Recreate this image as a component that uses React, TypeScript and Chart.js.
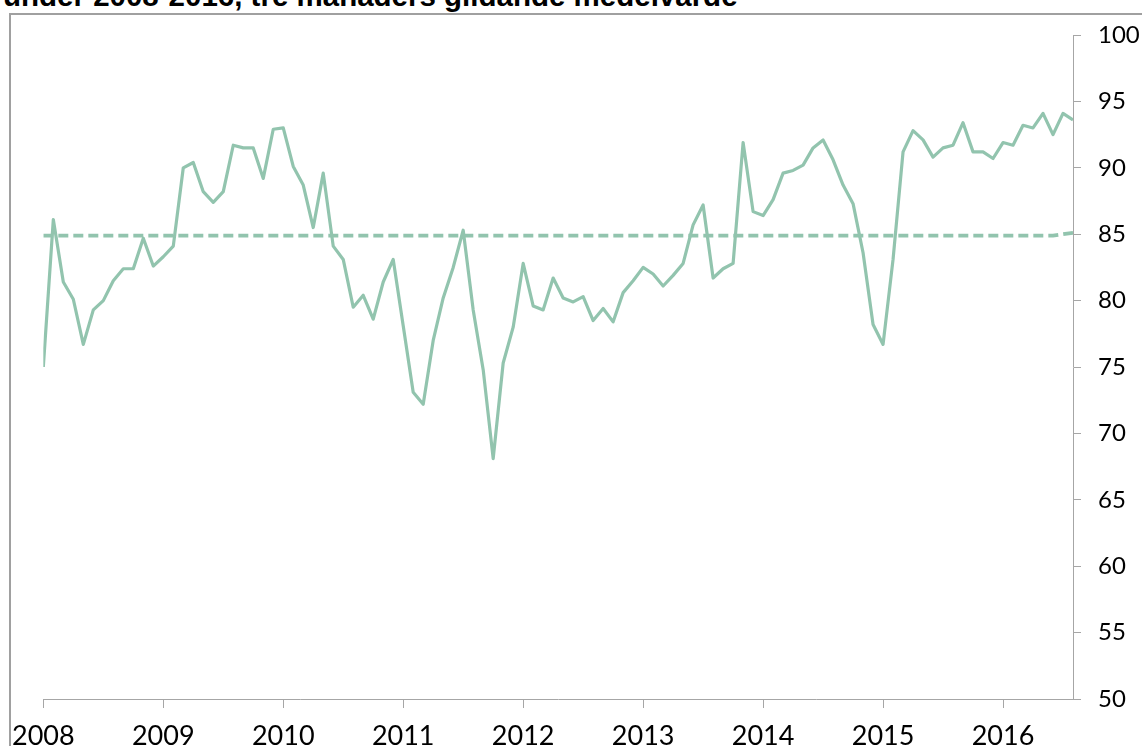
import React, { useEffect, useRef } from "react";
import { Chart, registerables } from "chart.js";

Chart.register(...registerables);

const TITLE = "under 2008-2016, tre månaders glidande medelvärde";

const YEARS = ["2008", "2009", "2010", "2011", "2012", "2013", "2014", "2015", "2016"];

const Y_TICKS = [50, 55, 60, 65, 70, 75, 80, 85, 90, 95, 100];

// Monthly index, Jan 2008 - Aug 2016 (three-month moving average)
const INDEX_VALUES = [
  75.0, 86.1, 81.4, 80.1, 76.7, 79.3, 80.0, 81.5, 82.4, 82.4, 84.7, 82.6,
  83.3, 84.1, 90.0, 90.4, 88.2, 87.4, 88.2, 91.7, 91.5, 91.5, 89.2, 92.9,
  93.0, 90.1, 88.7, 85.5, 89.6, 84.1, 83.1, 79.5, 80.4, 78.6, 81.4, 83.1,
  78.1, 73.1, 72.2, 77.0, 80.2, 82.5, 85.3, 79.3, 74.8, 68.1, 75.3, 78.0,
  82.8, 79.6, 79.3, 81.7, 80.2, 79.9, 80.3, 78.5, 79.4, 78.4, 80.6, 81.5,
  82.5, 82.0, 81.1, 81.9, 82.8, 85.7, 87.2, 81.7, 82.4, 82.8, 91.9, 86.7,
  86.4, 87.6, 89.6, 89.8, 90.2, 91.5, 92.1, 90.6, 88.7, 87.3, 83.6, 78.2,
  76.7, 83.1, 91.2, 92.8, 92.1, 90.8, 91.5, 91.7, 93.4, 91.2, 91.2, 90.7,
  91.9, 91.7, 93.2, 93.0, 94.1, 92.5, 94.1, 93.6,
];

// Long-term average (dashed)
const AVERAGE_VALUES = [
  84.9, 84.9, 84.9, 84.9, 84.9, 84.9, 84.9, 84.9, 84.9, 84.9, 84.9, 84.9,
  84.9, 84.9, 84.9, 84.9, 84.9, 84.9, 84.9, 84.9, 84.9, 84.9, 84.9, 84.9,
  84.9, 84.9, 84.9, 84.9, 84.9, 84.9, 84.9, 84.9, 84.9, 84.9, 84.9, 84.9,
  84.9, 84.9, 84.9, 84.9, 84.9, 84.9, 84.9, 84.9, 84.9, 84.9, 84.9, 84.9,
  84.9, 84.9, 84.9, 84.9, 84.9, 84.9, 84.9, 84.9, 84.9, 84.9, 84.9, 84.9,
  84.9, 84.9, 84.9, 84.9, 84.9, 84.9, 84.9, 84.9, 84.9, 84.9, 84.9, 84.9,
  84.9, 84.9, 84.9, 84.9, 84.9, 84.9, 84.9, 84.9, 84.9, 84.9, 84.9, 84.9,
  84.9, 84.9, 84.9, 84.9, 84.9, 84.9, 84.9, 84.9, 84.9, 84.9, 84.9, 84.9,
  84.9, 84.9, 84.9, 84.9, 84.9, 84.9, 85.0, 85.1,
];

const LINE_COLOR = "#92c4ae";
const AXIS_COLOR = "#a6a6a6";
const Y_FONT = { family: "Lato, 'Open Sans', sans-serif", size: 24 };
const X_FONT = { family: "Lato, 'Open Sans', sans-serif", size: 27 };

export default function App() {
  const ref = useRef<HTMLCanvasElement>(null);

  useEffect(() => {
    if (!ref.current) return;
    const chart = new Chart(ref.current, {
      type: "line",
      data: {
        datasets: [
          {
            data: INDEX_VALUES.map((v, i) => ({ x: i, y: v })),
            borderColor: LINE_COLOR,
            borderWidth: 3.2,
            pointRadius: 0,
            tension: 0,
            borderJoinStyle: "round",
            fill: false,
          },
          {
            data: AVERAGE_VALUES.map((v, i) => ({ x: i, y: v })),
            borderColor: LINE_COLOR,
            borderWidth: 3.8,
            borderDash: [10, 5],
            pointRadius: 0,
            tension: 0,
            fill: false,
          },
        ],
      },
      options: {
        animation: false,
        responsive: false,
        maintainAspectRatio: false,
        layout: { padding: { left: 43, top: 35, right: 0, bottom: 0 } },
        plugins: {
          legend: { display: false },
          tooltip: { enabled: false },
          title: { display: false },
        },
        scales: {
          x: {
            type: "linear",
            min: 0,
            max: INDEX_VALUES.length - 1,
            afterBuildTicks: (s: any) => {
              s.ticks = YEARS.map((_, k) => ({ value: k * 12 }));
            },
            afterFit: (s: any) => {
              s.height = 47;
            },
            ticks: {
              autoSkip: false,
              maxRotation: 0,
              color: "#000",
              font: X_FONT,
              padding: 12,
              callback: (v: any) => YEARS[Math.round(Number(v) / 12)] ?? "",
            },
            grid: {
              drawOnChartArea: false,
              drawTicks: true,
              tickLength: 9,
              color: AXIS_COLOR,
            },
            border: { color: AXIS_COLOR, width: 1 },
          },
          y: {
            position: "right",
            min: 50,
            max: 100,
            afterBuildTicks: (s: any) => {
              s.ticks = Y_TICKS.map((v) => ({ value: v }));
            },
            afterFit: (s: any) => {
              s.width = 69;
            },
            ticks: {
              color: "#000",
              font: Y_FONT,
              padding: 17,
            },
            grid: {
              drawOnChartArea: false,
              drawTicks: true,
              tickLength: 8,
              color: AXIS_COLOR,
            },
            border: { color: AXIS_COLOR, width: 1 },
          },
        },
      },
    });
    return () => chart.destroy();
  }, []);

  return (
    <div
      style={{
        position: "fixed",
        left: 0,
        top: 0,
        width: 1142,
        height: 746,
        overflow: "hidden",
        background: "#fff",
      }}
    >
      <div
        style={{
          position: "absolute",
          left: 3,
          top: -19,
          font: "bold 29.5px 'Liberation Sans', Arial, sans-serif",
          lineHeight: "30px",
          whiteSpace: "nowrap",
          color: "#000",
        }}
      >
        {TITLE}
      </div>
      <div
        style={{
          position: "absolute",
          left: 9,
          top: 13,
          width: 1200,
          height: 800,
          borderTop: "2px solid #a0a0a0",
          borderLeft: "2px solid #a0a0a0",
        }}
      />
      <canvas
        ref={ref}
        width={1142}
        height={746}
        style={{ position: "absolute", left: 0, top: 0, width: 1142, height: 746 }}
      />
    </div>
  );
}
